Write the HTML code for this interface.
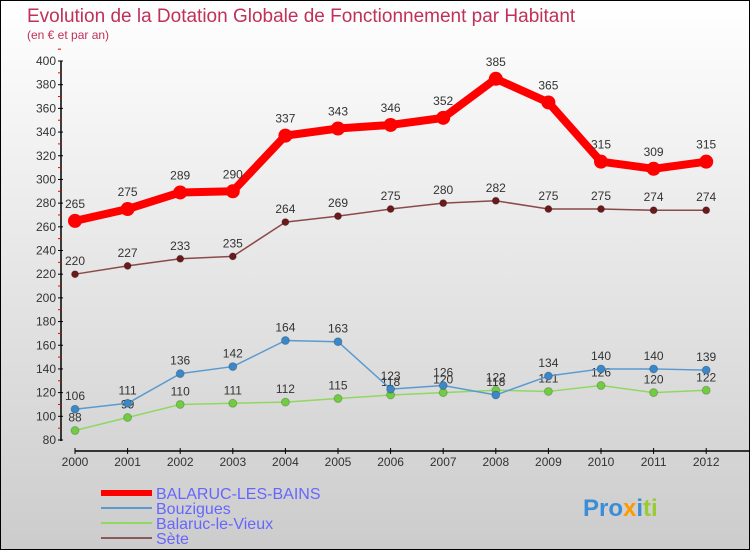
<!DOCTYPE html>
<html><head><meta charset="utf-8"><style>
body{margin:0}
#c{width:748px;height:548px;border:1px solid #000;background:linear-gradient(#fff,#ccc);position:relative;font-family:"Liberation Sans",sans-serif;overflow:hidden}
</style></head><body>
<div id="c">
<svg id="s" width="748" height="548"></svg>
</div>
<script>
const years=[2000,2001,2002,2003,2004,2005,2006,2007,2008,2009,2010,2011,2012];
const blb=[265,275,289,290,337,343,346,352,385,365,315,309,315];
const bou=[106,111,136,142,164,163,123,126,118,134,140,140,139];
const blv=[88,99,110,111,112,115,118,120,122,121,126,120,122];
const sete=[220,227,233,235,264,269,275,280,282,275,275,274,274];
const yTicks=[80,100,120,140,160,180,200,220,240,260,280,300,320,340,360,380,400];
const NS="http://www.w3.org/2000/svg";
const s=document.getElementById('s');
function X(i){return 74+i*52.6;}
function Y(v){return 439-(v-80)*(379/320);}
function el(t,a,p){const e=document.createElementNS(NS,t);for(const k in a)e.setAttribute(k,a[k]);(p||s).appendChild(e);return e;}
function txt(x,y,str,a){const e=el('text',Object.assign({x:x,y:y},a));e.textContent=str;return e;}
let t=txt(26,21,'Evolution de la Dotation Globale de Fonctionnement par Habitant',{fill:'#c0305a','font-size':19});

t=txt(26,38,'(en € et par an)',{fill:'#c0305a','font-size':12});

let a=el('line',{x1:60,y1:60,x2:60,y2:440,stroke:'#000','stroke-width':1.5});

yTicks.forEach(v=>{el('line',{x1:57,x2:62,y1:Y(v),y2:Y(v),stroke:'#000'});
 el('line',{x1:57,x2:60,y1:Y(v+10),y2:Y(v+10),stroke:'#e00'});
 const l=txt(55,Y(v)+4,v,{'text-anchor':'end','font-size':12,fill:'#333'});
 });
a=el('line',{x1:74,y1:450,x2:748,y2:450,stroke:'#000','stroke-width':1.5});

years.forEach((y,i)=>{el('line',{x1:X(i),x2:X(i),y1:447,y2:453,stroke:'#000'});
 const l=txt(X(i),465,y,{'text-anchor':'middle','font-size':12,fill:'#333'});
 });
function series(d,col,w,r,name,dot,lab){
 const g=el('g',{});
 el('polyline',{points:d.map((v,i)=>X(i)+','+Y(v)).join(' '),fill:'none',stroke:col,'stroke-width':w,'stroke-linejoin':'round'},g);
 d.forEach((v,i)=>{const c=el('circle',{cx:X(i),cy:Y(v),r:r,fill:dot,stroke:col==dot?'none':'#0003'},g);
  
  txt(X(i),Y(v)-lab,v,{'text-anchor':'middle','font-size':12,fill:'#333'},g);});
}
series(sete,'#8a4a4a',1.5,3.5,'sete','#6a1a1a',9);
series(blv,'#90d860',1.5,4,'balaruc-le-vieux','#70cc40',9);
series(bou,'#5a9ad0',1.5,4,'bouzigues','#3a88c8',9);
series(blb,'#f00',8,7,'balaruc-les-bains','#f00',13);
const leg=[['BALARUC-LES-BAINS','#f00',6],['Bouzigues','#5a9ad0',2],['Balaruc-le-Vieux','#90d860',2],['Sète','#8a5a5a',2]];
leg.forEach((L,i)=>{const g=el('g',{});
 const y=492+i*15;el('line',{x1:100,x2:151,y1:y,y2:y,stroke:L[1],'stroke-width':L[2]},g);
 txt(155,y+6,L[0],{'font-size':16,fill:'#66f'},g);});
const p=txt(582,515,'Pro',{'font-size':24,'font-weight':'bold',fill:'#3a8ed8'});

const t2=el('tspan',{fill:'#f90'},p);t2.textContent='x';const t3=el('tspan',{fill:'#3a8ed8'},p);t3.textContent='i';const t4=el('tspan',{fill:'#9c3'},p);t4.textContent='ti';
</script>
</body></html>
